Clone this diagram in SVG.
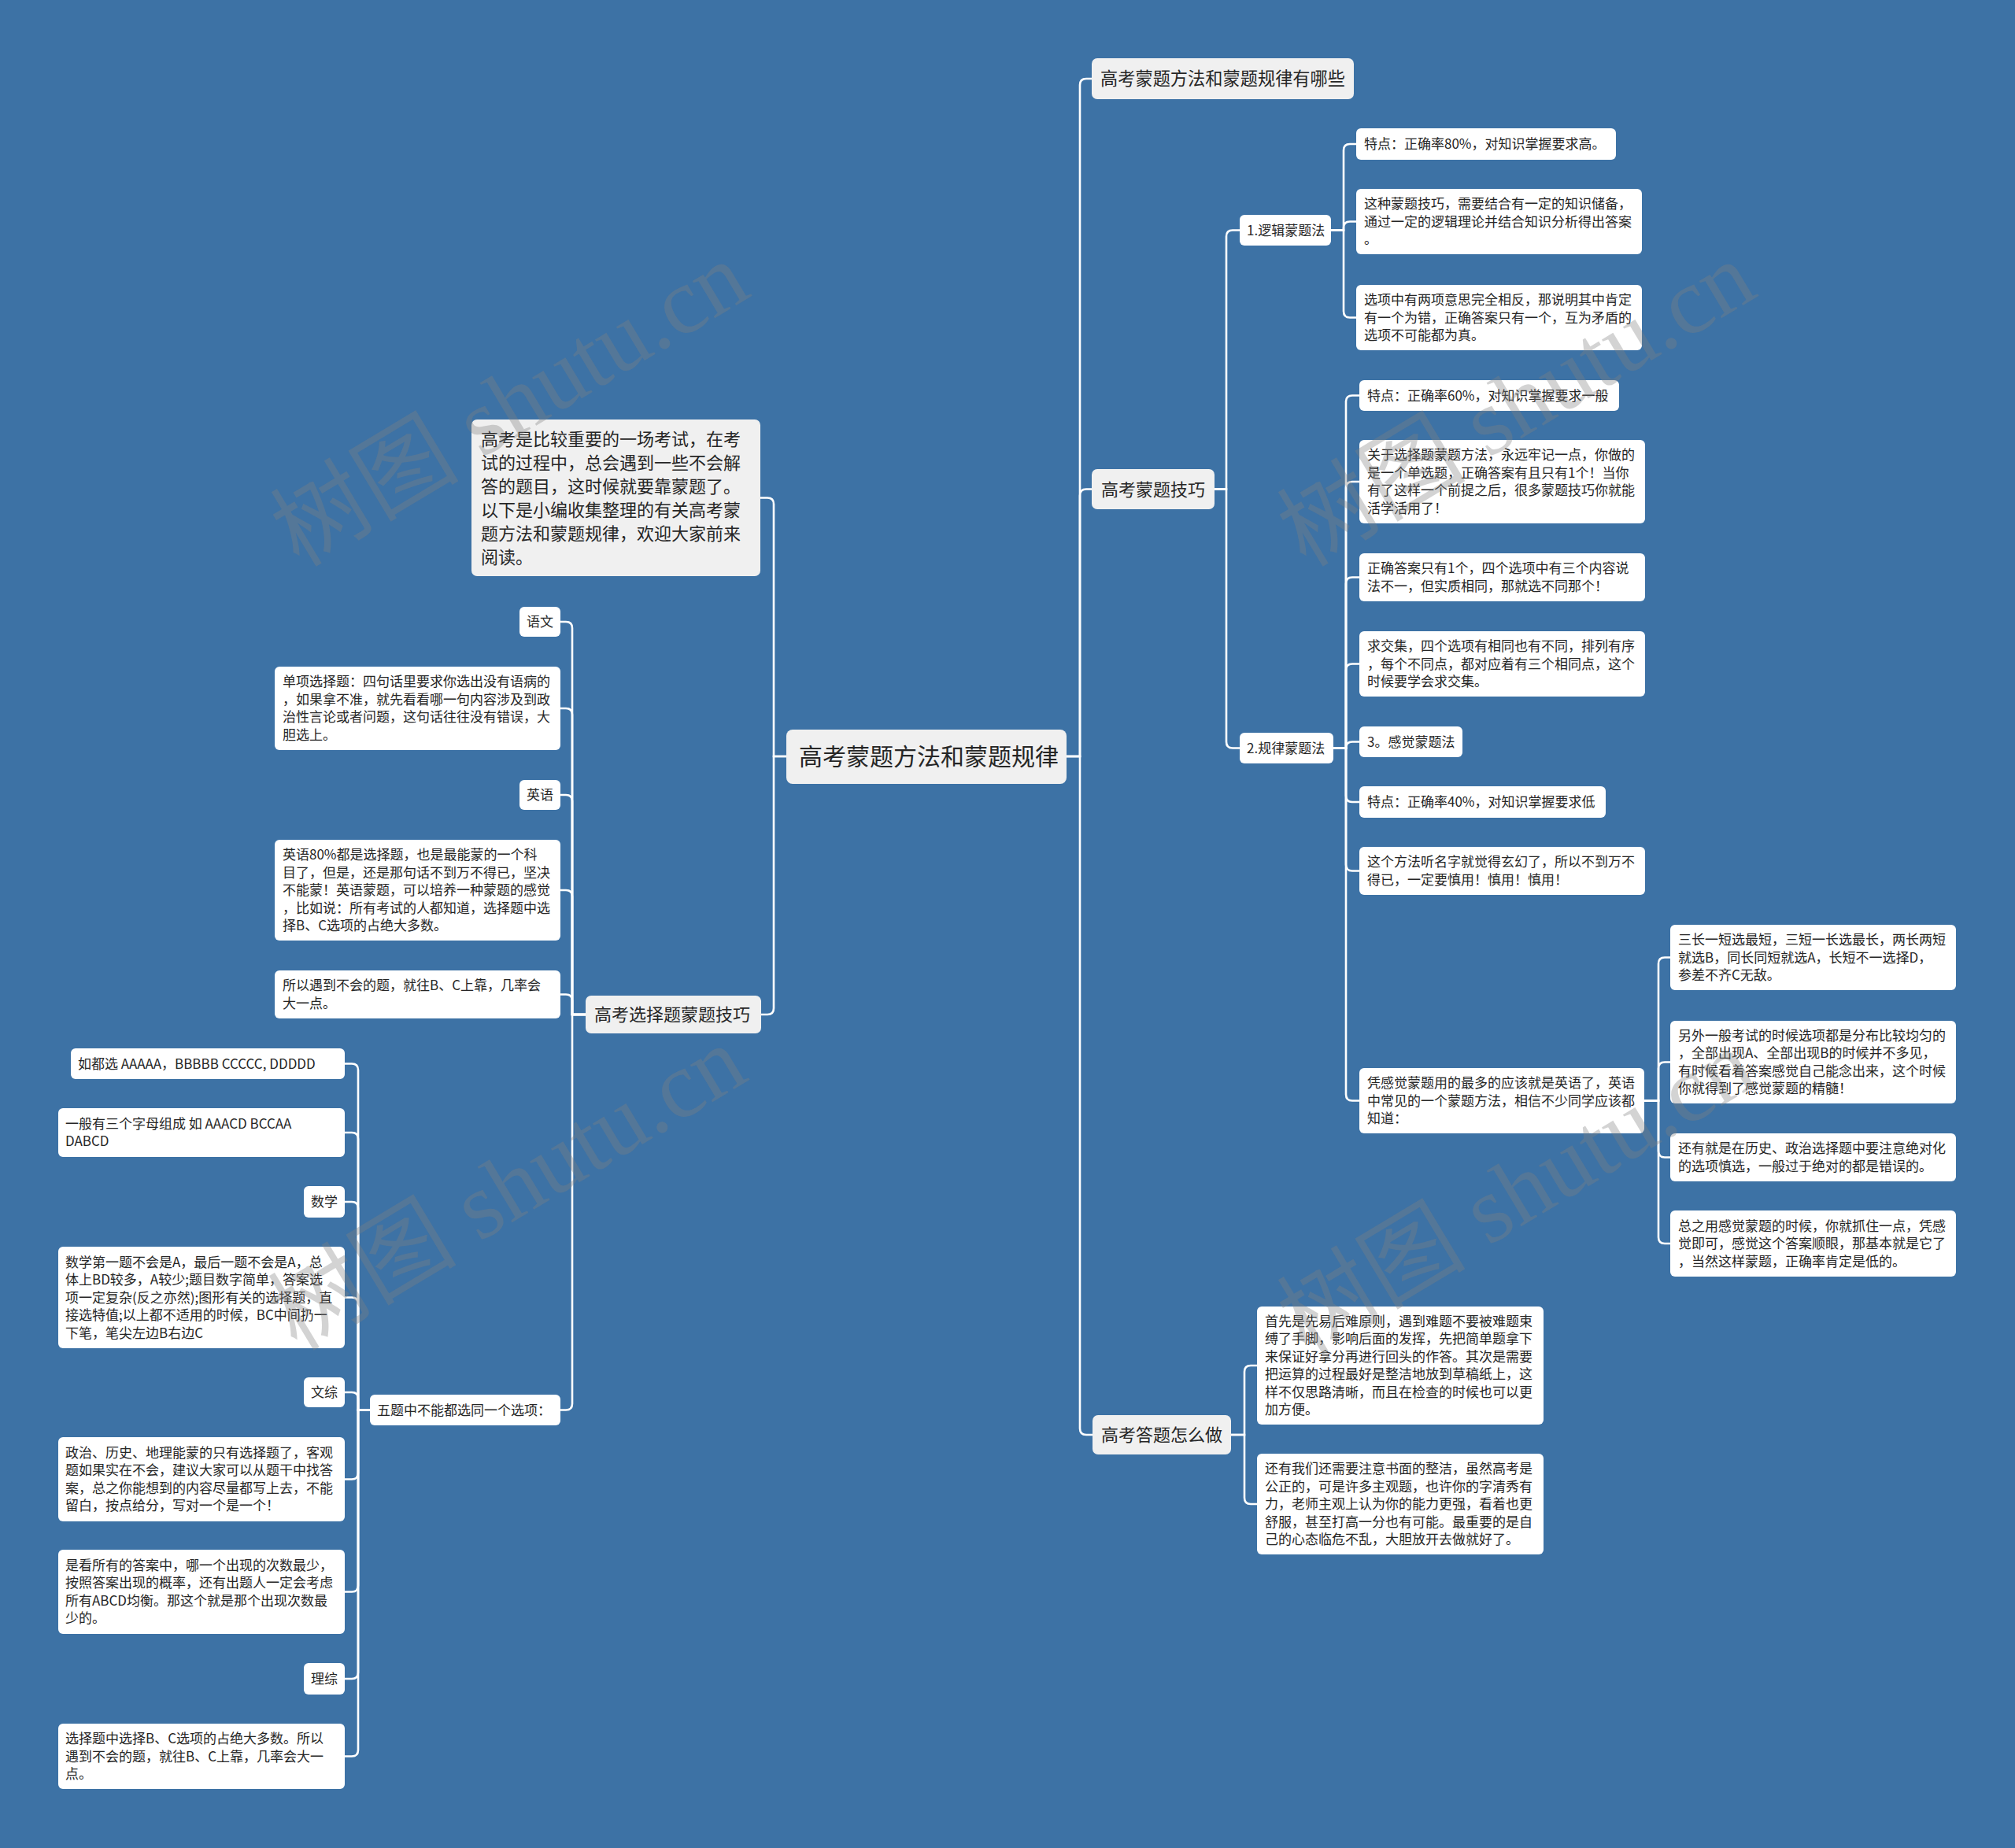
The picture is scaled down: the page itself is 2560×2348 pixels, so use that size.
<svg xmlns="http://www.w3.org/2000/svg" width="2560" height="2348" viewBox="0 0 2560 2348">
<style>
.n1{fill:#f0f0f0}
.n2{fill:#ffffff}
text{font-family:"Noto Sans CJK SC","Noto Sans",sans-serif;fill:#262626}
.f17{font-size:17px}
.f22{font-size:22px}
.f24{font-size:23px}
.f30{font-size:30px}
.conn path{fill:none;stroke:#ffffff;stroke-width:2.6}
.wm{font-family:"Liberation Serif","Noto Sans CJK SC",serif;font-size:120px;fill:#808080;fill-opacity:0.35}
</style>
<rect width="2560" height="2348" fill="#3d72a5"/>

<g id="connectors" class="conn">
<path d="M1355 961 H1372 V108 Q1372 100 1380 100 H1387"/>
<path d="M1355 961 H1372 V629.5 Q1372 621.5 1380 621.5 H1387"/>
<path d="M1355 961 H1372 V1815 Q1372 1823 1380 1823 H1388"/>
<path d="M1543 621.5 H1558 V300.5 Q1558 292.5 1566 292.5 H1575"/>
<path d="M1543 621.5 H1558 V942.5 Q1558 950.5 1566 950.5 H1575"/>
<path d="M1691 292.5 H1707 V191 Q1707 183 1715 183 H1723"/>
<path d="M1691 292.5 H1707 V289.5 Q1707 281.5 1715 281.5 H1723"/>
<path d="M1691 292.5 H1707 V395.5 Q1707 403.5 1715 403.5 H1723"/>
<path d="M1694 950.5 H1710 V510.5 Q1710 502.5 1718 502.5 H1727"/>
<path d="M1694 950.5 H1710 V620 Q1710 612 1718 612 H1727"/>
<path d="M1694 950.5 H1710 V741.5 Q1710 733.5 1718 733.5 H1727"/>
<path d="M1694 950.5 H1710 V851.5 Q1710 843.5 1718 843.5 H1727"/>
<path d="M1694 950.5 H1710 V950.5 Q1710 942.5 1718 942.5 H1727"/>
<path d="M1694 950.5 H1710 V1011 Q1710 1019 1718 1019 H1727"/>
<path d="M1694 950.5 H1710 V1098.5 Q1710 1106.5 1718 1106.5 H1727"/>
<path d="M1694 950.5 H1710 V1390.5 Q1710 1398.5 1718 1398.5 H1727"/>
<path d="M2089 1398.5 H2107 V1224.5 Q2107 1216.5 2115 1216.5 H2122"/>
<path d="M2089 1398.5 H2107 V1357.5 Q2107 1349.5 2115 1349.5 H2122"/>
<path d="M2089 1398.5 H2107 V1462.5 Q2107 1470.5 2115 1470.5 H2122"/>
<path d="M2089 1398.5 H2107 V1572 Q2107 1580 2115 1580 H2122"/>
<path d="M1564 1823 H1581 V1743 Q1581 1735 1589 1735 H1597"/>
<path d="M1564 1823 H1581 V1903 Q1581 1911 1589 1911 H1597"/>
<path d="M999 961 H983 V640.5 Q983 632.5 975 632.5 H966"/>
<path d="M999 961 H983 V1281 Q983 1289 975 1289 H967"/>
<path d="M744 1289 H727 V798 Q727 790 719 790 H712"/>
<path d="M744 1289 H727 V908 Q727 900 719 900 H712"/>
<path d="M744 1289 H727 V1018 Q727 1010 719 1010 H712"/>
<path d="M744 1289 H727 V1139 Q727 1131 719 1131 H712"/>
<path d="M744 1289 H727 V1271.5 Q727 1263.5 719 1263.5 H712"/>
<path d="M744 1289 H727 V1783.5 Q727 1791.5 719 1791.5 H712"/>
<path d="M470 1791.5 H455 V1359.5 Q455 1351.5 447 1351.5 H438"/>
<path d="M470 1791.5 H455 V1447 Q455 1439 447 1439 H438"/>
<path d="M470 1791.5 H455 V1535 Q455 1527 447 1527 H438"/>
<path d="M470 1791.5 H455 V1656.5 Q455 1648.5 447 1648.5 H438"/>
<path d="M470 1791.5 H455 V1777 Q455 1769 447 1769 H438"/>
<path d="M470 1791.5 H455 V1871.5 Q455 1879.5 447 1879.5 H438"/>
<path d="M470 1791.5 H455 V2014.5 Q455 2022.5 447 2022.5 H438"/>
<path d="M470 1791.5 H455 V2125 Q455 2133 447 2133 H438"/>
<path d="M470 1791.5 H455 V2223.5 Q455 2231.5 447 2231.5 H438"/>
</g>

<g id="root"><rect class="n1" x="999" y="927" width="356" height="69" rx="8"/><text class="f30" x="1015" y="972">高考蒙题方法和蒙题规律</text></g>

<g id="n-youshenme"><rect class="n1" x="1387" y="74" width="333" height="52" rx="7"/><text class="f24" x="1398" y="108" textLength="311" lengthAdjust="spacingAndGlyphs">高考蒙题方法和蒙题规律有哪些</text></g>
<g id="n-jiqiao"><rect class="n1" x="1387" y="596" width="156" height="51" rx="7"/><text class="f22" x="1399" y="629.5">高考蒙题技巧</text></g>
<g id="n-dati"><rect class="n1" x="1388" y="1798" width="176" height="50" rx="7"/><text class="f22" x="1399" y="1831">高考答题怎么做</text></g>

<g id="n-luoji"><rect class="n2" x="1575" y="273" width="116" height="39" rx="6"/><text class="f17" x="1584" y="298.5">1.逻辑蒙题法</text></g>
<g id="n-guilv"><rect class="n2" x="1575" y="931" width="119" height="39" rx="6"/><text class="f17" x="1584" y="956.5">2.规律蒙题法</text></g>

<g id="l1"><rect class="n2" x="1723" y="163" width="330" height="40" rx="6"/><text class="f17" x="1733" y="189">特点：正确率80%，对知识掌握要求高。</text></g>
<g id="l2"><rect class="n2" x="1723" y="240" width="363" height="83" rx="6"/><text class="f17"><tspan x="1733" y="265">这种蒙题技巧，需要结合有一定的知识储备，</tspan><tspan x="1733" y="287.5">通过一定的逻辑理论并结合知识分析得出答案</tspan><tspan x="1733" y="310">。</tspan></text></g>
<g id="l3"><rect class="n2" x="1723" y="362" width="363" height="83" rx="6"/><text class="f17"><tspan x="1733" y="387">选项中有两项意思完全相反，那说明其中肯定</tspan><tspan x="1733" y="409.5">有一个为错，正确答案只有一个，互为矛盾的</tspan><tspan x="1733" y="432">选项不可能都为真。</tspan></text></g>

<g id="r1"><rect class="n2" x="1727" y="483" width="330" height="39" rx="6"/><text class="f17" x="1737" y="508.5">特点：正确率60%，对知识掌握要求一般</text></g>
<g id="r2"><rect class="n2" x="1727" y="559" width="363" height="106" rx="6"/><text class="f17"><tspan x="1737" y="584.25">关于选择题蒙题方法，永远牢记一点，你做的</tspan><tspan x="1737" y="606.75">是一个单选题，正确答案有且只有1个！当你</tspan><tspan x="1737" y="629.25">有了这样一个前提之后，很多蒙题技巧你就能</tspan><tspan x="1737" y="651.75">活学活用了！</tspan></text></g>
<g id="r3"><rect class="n2" x="1727" y="703" width="363" height="61" rx="6"/><text class="f17"><tspan x="1737" y="728.25">正确答案只有1个，四个选项中有三个内容说</tspan><tspan x="1737" y="750.75">法不一，但实质相同，那就选不同那个！</tspan></text></g>
<g id="r4"><rect class="n2" x="1727" y="802" width="363" height="83" rx="6"/><text class="f17"><tspan x="1737" y="827">求交集，四个选项有相同也有不同，排列有序</tspan><tspan x="1737" y="849.5">，每个不同点，都对应着有三个相同点，这个</tspan><tspan x="1737" y="872">时候要学会求交集。</tspan></text></g>
<g id="r5"><rect class="n2" x="1727" y="923" width="131" height="39" rx="6"/><text class="f17" x="1737" y="948.5">3。感觉蒙题法</text></g>
<g id="r6"><rect class="n2" x="1727" y="999" width="313" height="40" rx="6"/><text class="f17" x="1737" y="1025">特点：正确率40%，对知识掌握要求低</text></g>
<g id="r7"><rect class="n2" x="1727" y="1076" width="363" height="61" rx="6"/><text class="f17"><tspan x="1737" y="1101.25">这个方法听名字就觉得玄幻了，所以不到万不</tspan><tspan x="1737" y="1123.75">得已，一定要慎用！慎用！慎用！</tspan></text></g>
<g id="r8"><rect class="n2" x="1727" y="1357" width="362" height="83" rx="6"/><text class="f17"><tspan x="1737" y="1382">凭感觉蒙题用的最多的应该就是英语了，英语</tspan><tspan x="1737" y="1404.5">中常见的一个蒙题方法，相信不少同学应该都</tspan><tspan x="1737" y="1427">知道：</tspan></text></g>

<g id="s1"><rect class="n2" x="2122" y="1175" width="363" height="83" rx="6"/><text class="f17"><tspan x="2132" y="1200">三长一短选最短，三短一长选最长，两长两短</tspan><tspan x="2132" y="1222.5">就选B，同长同短就选A，长短不一选择D，</tspan><tspan x="2132" y="1245">参差不齐C无敌。</tspan></text></g>
<g id="s2"><rect class="n2" x="2122" y="1297" width="363" height="105" rx="6"/><text class="f17"><tspan x="2132" y="1321.75">另外一般考试的时候选项都是分布比较均匀的</tspan><tspan x="2132" y="1344.25">，全部出现A、全部出现B的时候并不多见，</tspan><tspan x="2132" y="1366.75">有时候看着答案感觉自己能念出来，这个时候</tspan><tspan x="2132" y="1389.25">你就得到了感觉蒙题的精髓！</tspan></text></g>
<g id="s3"><rect class="n2" x="2122" y="1440" width="363" height="61" rx="6"/><text class="f17"><tspan x="2132" y="1465.25">还有就是在历史、政治选择题中要注意绝对化</tspan><tspan x="2132" y="1487.75">的选项慎选，一般过于绝对的都是错误的。</tspan></text></g>
<g id="s4"><rect class="n2" x="2122" y="1538" width="363" height="84" rx="6"/><text class="f17"><tspan x="2132" y="1563.5">总之用感觉蒙题的时候，你就抓住一点，凭感</tspan><tspan x="2132" y="1586">觉即可，感觉这个答案顺眼，那基本就是它了</tspan><tspan x="2132" y="1608.5">，当然这样蒙题，正确率肯定是低的。</tspan></text></g>

<g id="d1"><rect class="n2" x="1597" y="1660" width="364" height="150" rx="6"/><text class="f17"><tspan x="1607" y="1684.75">首先是先易后难原则，遇到难题不要被难题束</tspan><tspan x="1607" y="1707.25">缚了手脚，影响后面的发挥，先把简单题拿下</tspan><tspan x="1607" y="1729.75">来保证好拿分再进行回头的作答。其次是需要</tspan><tspan x="1607" y="1752.25">把运算的过程最好是整洁地放到草稿纸上，这</tspan><tspan x="1607" y="1774.75">样不仅思路清晰，而且在检查的时候也可以更</tspan><tspan x="1607" y="1797.25">加方便。</tspan></text></g>
<g id="d2"><rect class="n2" x="1597" y="1847" width="364" height="128" rx="6"/><text class="f17"><tspan x="1607" y="1872">还有我们还需要注意书面的整洁，虽然高考是</tspan><tspan x="1607" y="1894.5">公正的，可是许多主观题，也许你的字清秀有</tspan><tspan x="1607" y="1917">力，老师主观上认为你的能力更强，看着也更</tspan><tspan x="1607" y="1939.5">舒服，甚至打高一分也有可能。最重要的是自</tspan><tspan x="1607" y="1962">己的心态临危不乱，大胆放开去做就好了。</tspan></text></g>

<g id="intro"><rect class="n1" x="599" y="533" width="367" height="199" rx="7"/><text class="f22"><tspan x="611" y="565.5">高考是比较重要的一场考试，在考</tspan><tspan x="611" y="595.5">试的过程中，总会遇到一些不会解</tspan><tspan x="611" y="625.5">答的题目，这时候就要靠蒙题了。</tspan><tspan x="611" y="655.5">以下是小编收集整理的有关高考蒙</tspan><tspan x="611" y="685.5">题方法和蒙题规律，欢迎大家前来</tspan><tspan x="611" y="715.5">阅读。</tspan></text></g>
<g id="n-xuanze"><rect class="n1" x="744" y="1265" width="223" height="48" rx="7"/><text class="f22" x="755" y="1297">高考选择题蒙题技巧</text></g>

<g id="yuwen"><rect class="n2" x="660" y="771" width="52" height="38" rx="6"/><text class="f17" x="669" y="796">语文</text></g>
<g id="yw1"><rect class="n2" x="349" y="847" width="363" height="106" rx="6"/><text class="f17"><tspan x="359" y="872.25">单项选择题：四句话里要求你选出没有语病的</tspan><tspan x="359" y="894.75">，如果拿不准，就先看看哪一句内容涉及到政</tspan><tspan x="359" y="917.25">治性言论或者问题，这句话往往没有错误，大</tspan><tspan x="359" y="939.75">胆选上。</tspan></text></g>
<g id="yingyu"><rect class="n2" x="660" y="991" width="52" height="38" rx="6"/><text class="f17" x="669" y="1016">英语</text></g>
<g id="yy1"><rect class="n2" x="349" y="1067" width="363" height="128" rx="6"/><text class="f17"><tspan x="359" y="1092">英语80%都是选择题，也是最能蒙的一个科</tspan><tspan x="359" y="1114.5">目了，但是，还是那句话不到万不得已，坚决</tspan><tspan x="359" y="1137">不能蒙！英语蒙题，可以培养一种蒙题的感觉</tspan><tspan x="359" y="1159.5">，比如说：所有考试的人都知道，选择题中选</tspan><tspan x="359" y="1182">择B、C选项的占绝大多数。</tspan></text></g>
<g id="yy2"><rect class="n2" x="349" y="1233" width="363" height="61" rx="6"/><text class="f17"><tspan x="359" y="1258.25">所以遇到不会的题，就往B、C上靠，几率会</tspan><tspan x="359" y="1280.75">大一点。</tspan></text></g>
<g id="wuti"><rect class="n2" x="470" y="1772" width="242" height="39" rx="6"/><text class="f17" x="479" y="1797.5">五题中不能都选同一个选项：</text></g>

<g id="w1"><rect class="n2" x="90" y="1332" width="348" height="39" rx="6"/><text class="f17" x="99" y="1357.5">如都选 AAAAA，BBBBB CCCCC, DDDDD</text></g>
<g id="w2"><rect class="n2" x="74" y="1408" width="364" height="62" rx="6"/><text class="f17"><tspan x="83" y="1433.75">一般有三个字母组成 如 AAACD BCCAA</tspan><tspan x="83" y="1456.25">DABCD</tspan></text></g>
<g id="shuxue"><rect class="n2" x="386" y="1507" width="52" height="40" rx="6"/><text class="f17" x="395" y="1533">数学</text></g>
<g id="w3"><rect class="n2" x="74" y="1584" width="364" height="129" rx="6"/><text class="f17"><tspan x="83" y="1609.5">数学第一题不会是A，最后一题不会是A，总</tspan><tspan x="83" y="1632">体上BD较多，A较少;题目数字简单，答案选</tspan><tspan x="83" y="1654.5">项一定复杂(反之亦然);图形有关的选择题，直</tspan><tspan x="83" y="1677">接选特值;以上都不适用的时候，BC中间扔一</tspan><tspan x="83" y="1699.5">下笔，笔尖左边B右边C</tspan></text></g>
<g id="wenzong"><rect class="n2" x="386" y="1750" width="52" height="38" rx="6"/><text class="f17" x="395" y="1775">文综</text></g>
<g id="w4"><rect class="n2" x="74" y="1826" width="364" height="107" rx="6"/><text class="f17"><tspan x="83" y="1851.75">政治、历史、地理能蒙的只有选择题了，客观</tspan><tspan x="83" y="1874.25">题如果实在不会，建议大家可以从题干中找答</tspan><tspan x="83" y="1896.75">案，总之你能想到的内容尽量都写上去，不能</tspan><tspan x="83" y="1919.25">留白，按点给分，写对一个是一个！</tspan></text></g>
<g id="w5"><rect class="n2" x="74" y="1969" width="364" height="107" rx="6"/><text class="f17"><tspan x="83" y="1994.75">是看所有的答案中，哪一个出现的次数最少，</tspan><tspan x="83" y="2017.25">按照答案出现的概率，还有出题人一定会考虑</tspan><tspan x="83" y="2039.75">所有ABCD均衡。那这个就是那个出现次数最</tspan><tspan x="83" y="2062.25">少的。</tspan></text></g>
<g id="lizong"><rect class="n2" x="386" y="2113" width="52" height="40" rx="6"/><text class="f17" x="395" y="2139">理综</text></g>
<g id="w6"><rect class="n2" x="74" y="2190" width="364" height="83" rx="6"/><text class="f17"><tspan x="83" y="2215">选择题中选择B、C选项的占绝大多数。所以</tspan><tspan x="83" y="2237.5">遇到不会的题，就往B、C上靠，几率会大一</tspan><tspan x="83" y="2260">点。</tspan></text></g>

<g id="watermarks">
<text class="wm" text-anchor="middle" transform="translate(648 514) rotate(-31)" y="40">树图 shutu.cn</text>
<text class="wm" text-anchor="middle" transform="translate(1927 514) rotate(-31)" y="40">树图 shutu.cn</text>
<text class="wm" text-anchor="middle" transform="translate(645 1510) rotate(-31)" y="40">树图 shutu.cn</text>
<text class="wm" text-anchor="middle" transform="translate(1927 1515) rotate(-31)" y="40">树图 shutu.cn</text>
</g>
</svg>
